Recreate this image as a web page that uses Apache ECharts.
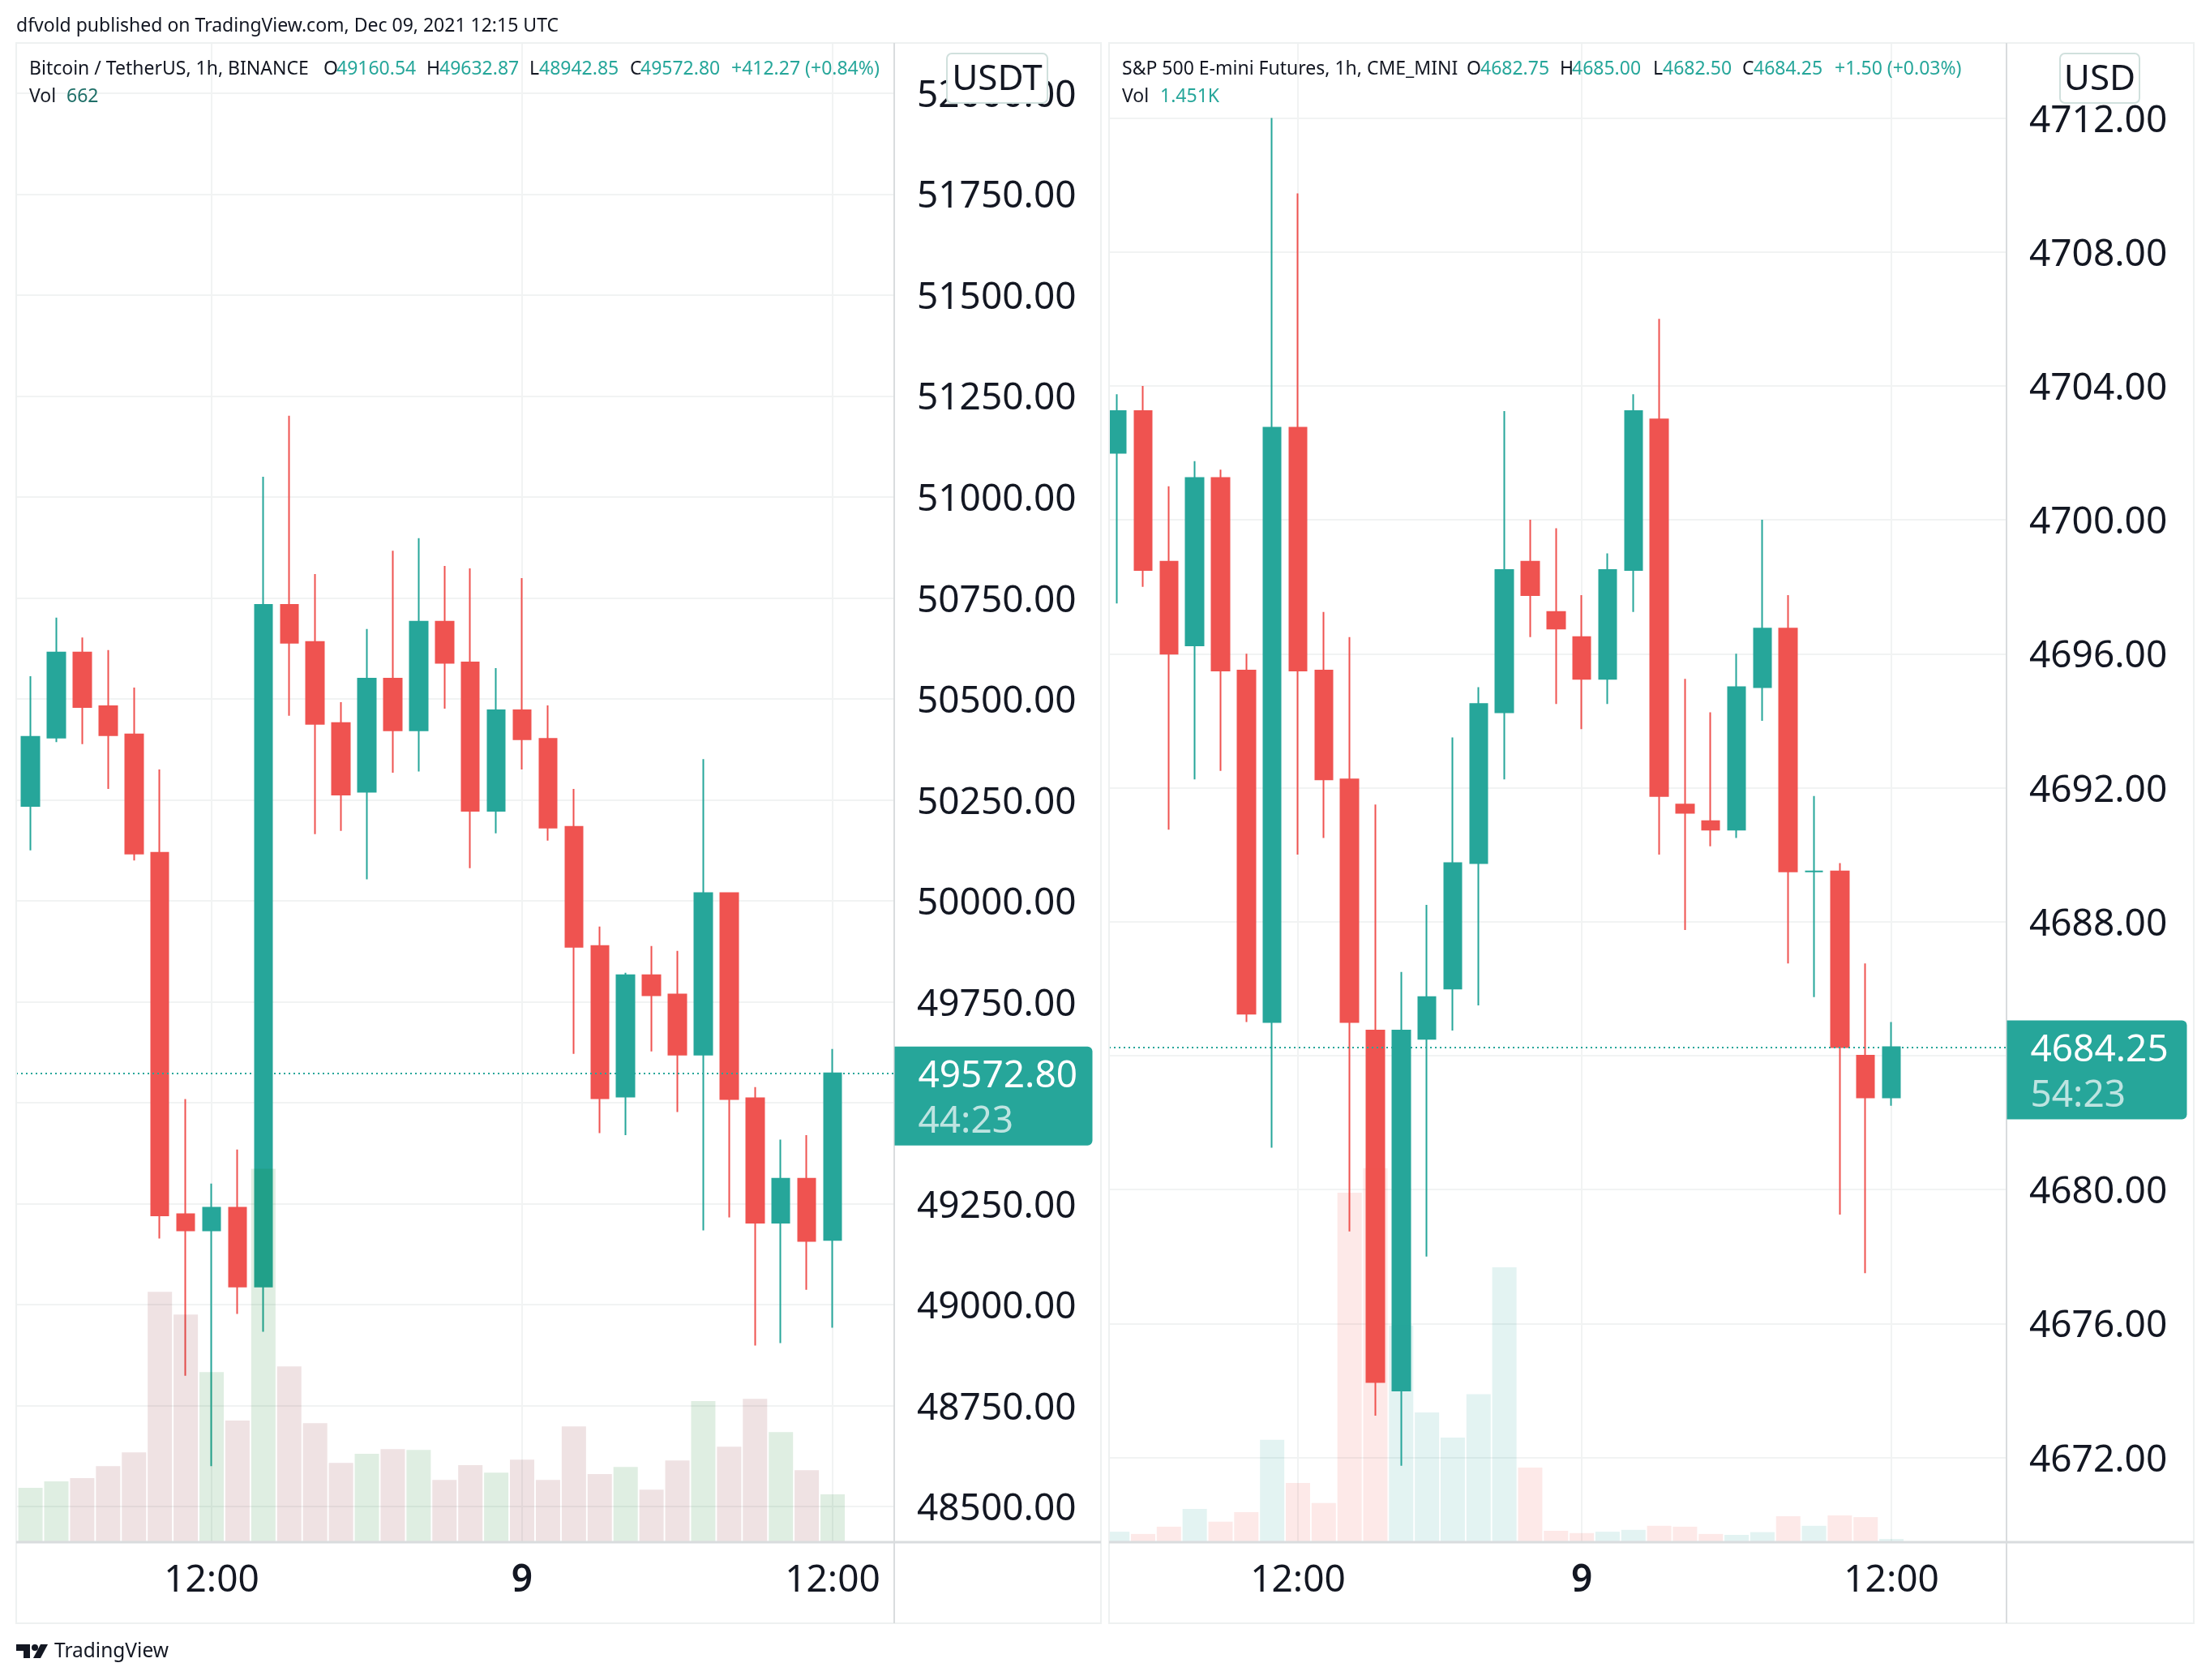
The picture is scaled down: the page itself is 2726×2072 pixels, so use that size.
<!DOCTYPE html>
<html>
<head>
<meta charset="utf-8">
<style>html,body{margin:0;padding:0;background:#fff}#chart-container{width:2726px;height:2072px}</style>
<script src="https://cdn.jsdelivr.net/npm/echarts@6/dist/echarts.min.js"></script>
</head>
<body>
<div id="chart-container"></div>
<script>
// BTCUSDT 1h candles
var btcOpen = [50235,50404,50615,50482,50412,50119,49224,49184,49240,49045,50733,50641,50440,50270,50550,50422,50691,50590,50223,50472,50401,50183,49888,49515,49816,49768,49619,50019,49511,49203,49312,49160.54];
var btcClose = [50406,50615,50480,50410,50117,49221,49184,49240,49045,50733,50639,50438,50263,50550,50422,50691,50589,50223,50472,50400,50181,49886,49511,49816,49766,49619,50019,49509,49203,49312,49158,49572.80];
var btcLow = [50125,50393,50388,50277,50100,49164,48824,48600,48977,48933,50458,50165,50173,50053,50317,50320,50476,50081,50167,50325,50149,49621,49425,49420,49627,49477,49184,49216,48899,48905,49037,48942.85];
var btcHigh = [50556,50701,50652,50621,50528,50325,49509,49300,49384,51050,51201,50809,50492,50673,50867,50898,50829,50823,50576,50799,50484,50277,49936,49822,49888,49876,50351,50019,49539,49409,49420,49632.87];
var btcVol = [752,843,888,1053,1244,3470,3154,2357,1685,5175,2437,1650,1098,1224,1289,1279,863,1068,963,1143,863,1605,943,1043,727,1133,1956,1324,1986,1525,998,662];
var btcPriceTicks = [52000,51750,51500,51250,51000,50750,50500,50250,50000,49750,49500,49250,49000,48750,48500];
var btcTimeTicks = [7,19,31];

// ES1! 1h candles
var esOpen = [4702,4703.25,4698.75,4696.25,4701.25,4695.5,4685,4702.75,4695.5,4692.25,4684.75,4674,4684.5,4686,4689.75,4694.25,4698.75,4697.25,4696.5,4695.25,4698.5,4703,4691.5,4691,4690.75,4695,4696.75,4689.5,4689.5,4684,4682.75];
var esClose = [4703.25,4698.5,4696,4701.25,4695.5,4685.25,4702.75,4695.5,4692.25,4685,4674.25,4684.75,4685.75,4689.75,4694.5,4698.5,4697.75,4696.75,4695.25,4698.5,4703.25,4691.75,4691.25,4690.75,4695,4696.75,4689.5,4689.5,4684.25,4682.75,4684.25];
var esLow = [4697.5,4698,4690.75,4692.25,4692.5,4685,4681.25,4690,4690.5,4678.75,4673.25,4671.75,4678,4684.75,4685.5,4692.25,4696.5,4694.5,4693.75,4694.5,4697.25,4690,4687.75,4690.25,4690.5,4694,4686.75,4685.75,4679.25,4677.5,4682.5];
var esHigh = [4703.75,4704,4701,4701.75,4701.5,4696,4712,4709.75,4697.25,4696.5,4691.5,4686.5,4688.5,4693.5,4695,4703.25,4700,4699.75,4697.75,4699,4703.75,4706,4695.25,4694.25,4696,4700,4697.75,4691.75,4689.75,4686.75,4685];
var esVol = [4761,3726,7038,15111,9315,13662,46575,26910,17802,158976,170154,98532,58995,47610,67275,125028,33948,5175,4140,4761,5589,7452,7038,3726,3312,4554,11799,7452,12213,11385,1451];
var esPriceTicks = [4712,4708,4704,4700,4696,4692,4688,4684,4680,4676,4672];
var esTimeTicks = [7,18,30];

var timeTickLabels = ['12:00','9','12:00'];

var upColor = '#26A69A';
var downColor = '#EF5350';
var textColor = '#131722';
var gridColor = '#F1F3F3';
var frameColor = '#EEF1F1';
var axisColor = '#D9DCDE';
var fontName = '"Noto Sans", sans-serif';

var dom = document.getElementById('chart-container');
var myChart = echarts.init(dom, null, { renderer: 'canvas', useDirtyRect: false });

function ohlcRows(o, c, l, h) {
  return o.map(function (v, i) { return [i, v, c[i], l[i], h[i]]; });
}

function makePane(index, p) {
  var grid = { left: p.left, top: 53, width: p.width, height: 1849 };
  var xAxis = {
    type: 'value', gridIndex: index, min: p.xMin, max: p.xMax,
    axisLine: { show: false },
    axisTick: { show: false, customValues: p.timeTicks },
    splitLine: { show: true, lineStyle: { color: gridColor, width: 2 } },
    axisLabel: {
      customValues: p.timeTicks, margin: 25, color: textColor, fontFamily: fontName, fontSize: 46,
      formatter: function (v) {
        var s = timeTickLabels[p.timeTicks.indexOf(v)];
        return s === '9' ? '{b|9}' : s;
      },
      rich: { b: { fontFamily: fontName, fontSize: 46, fontWeight: 600, color: textColor } }
    }
  };
  var yPrice = {
    type: 'value', gridIndex: index, position: 'right', min: p.yMin, max: p.yMax,
    axisLine: { show: false },
    axisTick: { show: false, customValues: p.priceTicks },
    splitLine: { show: true, lineStyle: { color: gridColor, width: 2 } },
    axisLabel: {
      customValues: p.priceTicks, margin: 28,
      formatter: function (v) { return '{p|' + v.toFixed(2) + '}'; },
      rich: { p: { color: textColor, fontFamily: fontName, fontSize: 46, padding: [8, 0, 0, 0] } }
    }
  };
  var yVol = {
    type: 'value', gridIndex: index, min: 0, max: p.volMax, show: false, splitLine: { show: false }
  };
  var last = p.close[p.close.length - 1];
  var candles = {
    type: 'candlestick', xAxisIndex: index, yAxisIndex: index * 2, z: 2, barWidth: 22, clip: true,
    encode: { x: 0, y: [1, 2, 3, 4] },
    data: ohlcRows(p.open, p.close, p.low, p.high),
    itemStyle: { color: upColor, color0: downColor, borderColor: upColor, borderColor0: downColor, borderWidth: 2 },
    markLine: {
      silent: true, symbol: 'none', animation: false, label: { show: false },
      lineStyle: { color: upColor, type: [2, 4], width: 2 },
      data: [{ yAxis: last }]
    },
    markPoint: {
      silent: true, animation: false, z: 20,
      data: [{
        coord: [p.xMax, last], symbol: 'rect', symbolSize: 1, itemStyle: { color: 'rgba(0,0,0,0)' },
        label: {
          show: true, position: 'right', distance: 0, offset: [0, 28],
          width: p.tagWidth - 29, height: 112, padding: [9, 0, 1, 29], align: 'left',
          backgroundColor: upColor, borderRadius: [0, 6, 6, 0],
          formatter: '{a|' + last.toFixed(2) + '}\n{b|' + p.countdown + '}',
          rich: {
            a: { color: '#fff', fontFamily: fontName, fontSize: 46, lineHeight: 56 },
            b: { color: 'rgba(255,255,255,0.7)', fontFamily: fontName, fontSize: 46, lineHeight: 56 }
          }
        }
      }]
    }
  };
  var volumes = {
    type: 'bar', xAxisIndex: index, yAxisIndex: index * 2 + 1, z: 3, barWidth: 30, clip: true,
    data: p.vol.map(function (v, i) {
      return { value: [i, v], itemStyle: { color: p.close[i] >= p.open[i] ? p.volUp : p.volDown } };
    })
  };
  return { grid: grid, xAxis: xAxis, yAxes: [yPrice, yVol], series: [candles, volumes] };
}

var left = makePane(0, {
  left: 20, width: 1083, xMin: -0.551, xMax: 33.38, yMin: 48412, yMax: 52124,
  open: btcOpen, close: btcClose, low: btcLow, high: btcHigh, vol: btcVol, volMax: 20780,
  priceTicks: btcPriceTicks, timeTicks: btcTimeTicks, tagWidth: 244, countdown: '44:23',
  volUp: 'rgba(0,118,21,0.124)', volDown: 'rgba(126,21,29,0.124)'
});
var right = makePane(1, {
  left: 1368, width: 1107, xMin: -0.32, xMax: 34.46, yMin: 4669.47, yMax: 4714.24,
  open: esOpen, close: esClose, low: esLow, high: esHigh, vol: esVol, volMax: 682000,
  priceTicks: esPriceTicks, timeTicks: esTimeTicks, tagWidth: 222, countdown: '54:23',
  volUp: 'rgba(38,166,154,0.13)', volDown: 'rgba(239,83,80,0.13)'
});

function txt(x, y, s, color, size) {
  return {
    type: 'text', x: x, y: y, z: 30,
    style: { text: s, fill: color || textColor, fontFamily: fontName, fontSize: size || 23, verticalAlign: 'middle' }
  };
}

function line(x1, y1, x2, y2, color, w) {
  return { type: 'line', z: 6, shape: { x1: x1, y1: y1, x2: x2, y2: y2 }, style: { stroke: color, lineWidth: w } };
}

function frame(x, w, axisX) {
  return [
    { type: 'rect', z: 6, shape: { x: x, y: 53, width: w, height: 1949 }, style: { fill: 'none', stroke: frameColor, lineWidth: 2 } },
    line(axisX, 53, axisX, 2002, axisColor, 2),
    line(x, 1902, x + w, 1902, axisColor, 3)
  ];
}

function currencyButton(x, w, s) {
  return [
    { type: 'rect', z: 40, shape: { x: x, y: 66, width: w, height: 61, r: 6 }, style: { fill: '#fff', stroke: '#D0E0DD', lineWidth: 2 } },
    { type: 'text', z: 41, x: x + w / 2, y: 98, style: { text: s, fill: textColor, fontFamily: fontName, fontSize: 44, align: 'center', verticalAlign: 'middle' } }
  ];
}

var graphics = [].concat(
  // gap between the panes: the first ES bar starts left of its pane
  [{ type: 'rect', z: 5, shape: { x: 1359, y: 53, width: 9, height: 1849 }, style: { fill: '#fff' } }],
  frame(20, 1338, 1103),
  frame(1368, 1338, 2475),
  currencyButton(1168, 124, 'USDT'),
  currencyButton(2541, 98, 'USD'),
  [
    txt(20, 32, 'dfvold published on TradingView.com, Dec 09, 2021 12:15 UTC'),

    txt(36, 85, 'Bitcoin / TetherUS, 1h, BINANCE'),
    txt(399, 85, 'O'), txt(415, 85, '49160.54', upColor),
    txt(526, 85, 'H'), txt(542, 85, '49632.87', upColor),
    txt(653, 85, 'L'), txt(665, 85, '48942.85', upColor),
    txt(777, 85, 'C'), txt(790, 85, '49572.80', upColor),
    txt(902, 85, '+412.27 (+0.84%)', upColor),
    txt(36, 119, 'Vol'), txt(82, 119, '662', '#1F6F68'),

    txt(1384, 85, 'S&P 500 E-mini Futures, 1h, CME_MINI'),
    txt(1809, 85, 'O'), txt(1826, 85, '4682.75', upColor),
    txt(1924, 85, 'H'), txt(1939, 85, '4685.00', upColor),
    txt(2039, 85, 'L'), txt(2051, 85, '4682.50', upColor),
    txt(2149, 85, 'C'), txt(2163, 85, '4684.25', upColor),
    txt(2263, 85, '+1.50 (+0.03%)', upColor),
    txt(1384, 119, 'Vol'), txt(1431, 119, '1.451K', upColor),

    // TradingView logo
    { type: 'polygon', z: 30, shape: { points: [[20,2028],[37,2028],[37,2045],[29,2045],[29,2036],[20,2036]] }, style: { fill: textColor } },
    { type: 'circle', z: 30, shape: { cx: 43, cy: 2032, r: 4 }, style: { fill: textColor } },
    { type: 'polygon', z: 30, shape: { points: [[50,2028],[59,2028],[50,2045],[41,2045]] }, style: { fill: textColor } },
    txt(67, 2037, 'TradingView', textColor, 24.5)
  ]
);

var option = {
  backgroundColor: '#fff',
  animation: false,
  grid: [left.grid, right.grid],
  xAxis: [left.xAxis, right.xAxis],
  yAxis: left.yAxes.concat(right.yAxes),
  series: left.series.concat(right.series),
  graphic: graphics
};

myChart.setOption(option);
window.addEventListener('resize', myChart.resize);
</script>
</body>
</html>
